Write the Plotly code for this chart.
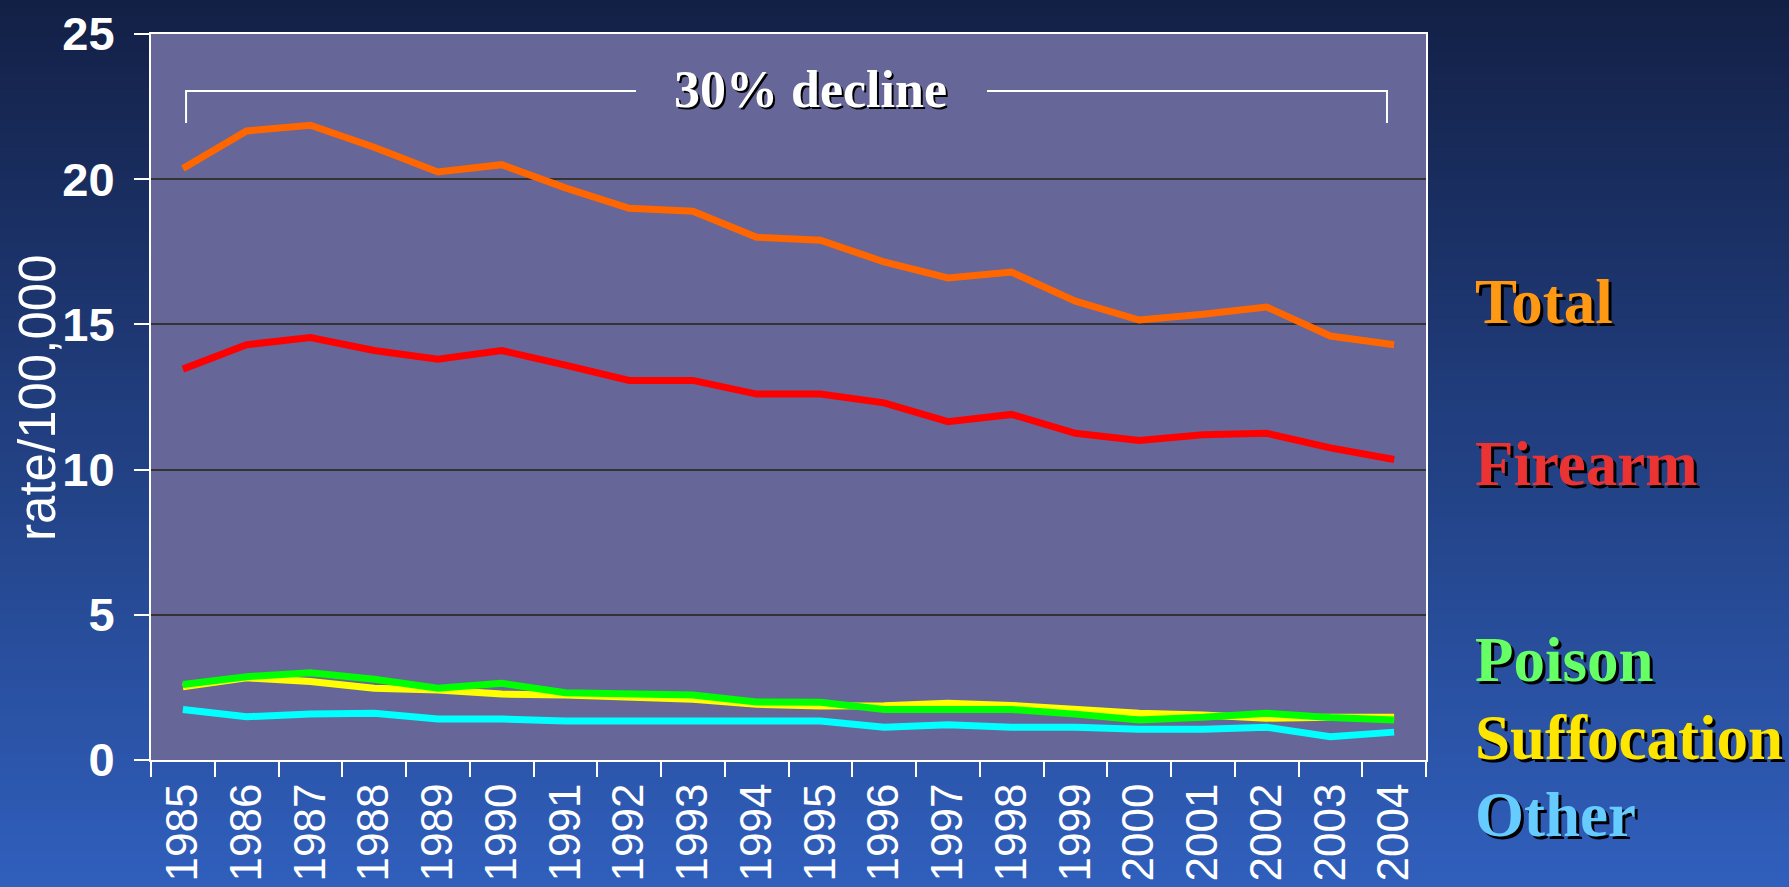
import plotly.graph_objects as go

years = [str(y) for y in range(1985, 2005)]
total = [20.37, 21.66, 21.86, 21.1, 20.25, 20.5, 19.7, 19.0, 18.9, 18.0,
         17.9, 17.15, 16.6, 16.8, 15.8, 15.15, 15.35, 15.6, 14.6, 14.3]
firearm = [13.46, 14.3, 14.55, 14.1, 13.8, 14.1, 13.6, 13.07, 13.07, 12.6,
           12.6, 12.3, 11.65, 11.9, 11.25, 11.0, 11.2, 11.25, 10.75, 10.35]
poison = [2.6, 2.87, 3.0, 2.78, 2.47, 2.64, 2.32, 2.3, 2.24, 2.0,
          1.99, 1.74, 1.74, 1.74, 1.58, 1.38, 1.47, 1.61, 1.46, 1.38]
suffocation = [2.52, 2.83, 2.7, 2.47, 2.41, 2.27, 2.24, 2.16, 2.09, 1.92,
               1.86, 1.87, 1.95, 1.88, 1.72, 1.61, 1.55, 1.44, 1.47, 1.47]
other = [1.74, 1.49, 1.58, 1.61, 1.41, 1.41, 1.34, 1.34, 1.34, 1.34,
         1.34, 1.13, 1.21, 1.13, 1.13, 1.06, 1.06, 1.13, 0.80, 0.96]

series_names = ["Total", "Firearm", "Suffocation", "Poison", "Other"]
series_values = [total, firearm, suffocation, poison, other]
line_colors = ["#FF6600", "#FF0000", "#FFFF00", "#00FF00", "#00FFFF"]

label_names = ["Total", "Firearm", "Poison", "Suffocation", "Other"]
label_colors = ["#FF9914", "#EB3333", "#66FF66", "#FFE600", "#66CCFF"]
label_y = [0.6309, 0.4077, 0.1377, 0.0303, -0.0758]

W, H = 1789, 887
ML, MR, MT, MB = 151, 363, 34, 127

fig = go.Figure()
for name, vals, col in zip(series_names, series_values, line_colors):
    fig.add_trace(go.Scatter(x=years, y=vals, mode="lines", name=name,
                             line=dict(color=col, width=7), showlegend=False))

shapes = []
# background gradient (paper coordinates extending over the whole page)
top_c = (19, 32, 70)
bot_c = (48, 95, 188)
N = 120
pw = W - ML - MR
ph = H - MT - MB
for i in range(N):
    py0 = i * H / N
    py1 = (i + 1) * H / N + 1
    t = (i + 0.5) / N
    c = tuple(round(top_c[k] + (bot_c[k] - top_c[k]) * t) for k in range(3))
    shapes.append(dict(type="rect", xref="paper", yref="paper", layer="below",
                       x0=-ML / pw - 0.01, x1=(W - ML) / pw + 0.01,
                       y0=(H - MB - py1) / ph, y1=(H - MB - py0) / ph,
                       line=dict(width=0), fillcolor="rgb(%d,%d,%d)" % c))
# plot area fill
shapes.append(dict(type="rect", xref="paper", yref="paper", layer="below",
                   x0=0, x1=1, y0=0, y1=1, line=dict(width=0),
                   fillcolor="#666699"))
# bracket
bx = [0.0275, 0.3804, 0.6557, 0.9694]
by_top, by_bot = 0.9215, 0.8774
shapes.append(dict(type="path", xref="paper", yref="paper",
                   path="M %f,%f L %f,%f L %f,%f" % (bx[0], by_bot, bx[0], by_top, bx[1], by_top),
                   line=dict(color="white", width=2)))
shapes.append(dict(type="path", xref="paper", yref="paper",
                   path="M %f,%f L %f,%f L %f,%f" % (bx[2], by_top, bx[3], by_top, bx[3], by_bot),
                   line=dict(color="white", width=2)))

annotations = [
    dict(text="30% decline", xref="paper", yref="paper", x=0.5176, y=0.9236,
         xanchor="center", yanchor="middle", showarrow=False,
         font=dict(family="Liberation Serif, Times New Roman, serif", size=52,
                   color="white", weight="bold", shadow="2px 2px 0px #000000")),
    dict(text="rate/100,000", xref="paper", yref="paper", x=-0.0895, y=0.4986,
         xanchor="center", yanchor="middle", showarrow=False, textangle=-90,
         font=dict(family="Liberation Sans, Arial, sans-serif", size=51, color="white")),
]
for name, col, yy in zip(label_names, label_colors, label_y):
    annotations.append(dict(text=name, xref="paper", yref="paper", x=(1473 - ML) / pw, y=yy,
                            xanchor="left", yanchor="middle", showarrow=False,
                            font=dict(family="Liberation Serif, Times New Roman, serif", size=63,
                                      color=col, weight="bold", shadow="3px 3px 0px #000000")))

fig.update_layout(
    width=W, height=H,
    margin=dict(l=ML, r=MR, t=MT, b=MB, autoexpand=False),
    paper_bgcolor="#213F86",
    plot_bgcolor="rgba(0,0,0,0)",
    shapes=shapes,
    annotations=annotations,
    showlegend=False,
)
fig.update_xaxes(
    type="category", range=[-0.5, 19.5], automargin=False,
    showline=True, linecolor="white", linewidth=2, mirror=True,
    showgrid=False, ticks="outside", tickson="boundaries", ticklen=15,
    tickcolor="white", tickwidth=2, tickangle=-90, ticklabelstandoff=4,
    tickfont=dict(family="Liberation Sans, Arial, sans-serif", size=44, color="white"),
)
fig.update_yaxes(
    range=[0, 25], tickvals=[0, 5, 10, 15, 20, 25], automargin=False,
    showline=True, linecolor="white", linewidth=2, mirror=True,
    showgrid=True, gridcolor="#333333", gridwidth=1.5, zeroline=False,
    ticks="outside", ticklen=15, tickcolor="white", tickwidth=2,
    ticklabelstandoff=10,
    tickfont=dict(family="Liberation Sans, Arial, sans-serif",
                  size=47, color="white", weight="bold"),
)

fig.write_html("out.html", config={"displayModeBar": False},
               post_script="document.body.style.margin='0';document.body.style.overflow='hidden';")
